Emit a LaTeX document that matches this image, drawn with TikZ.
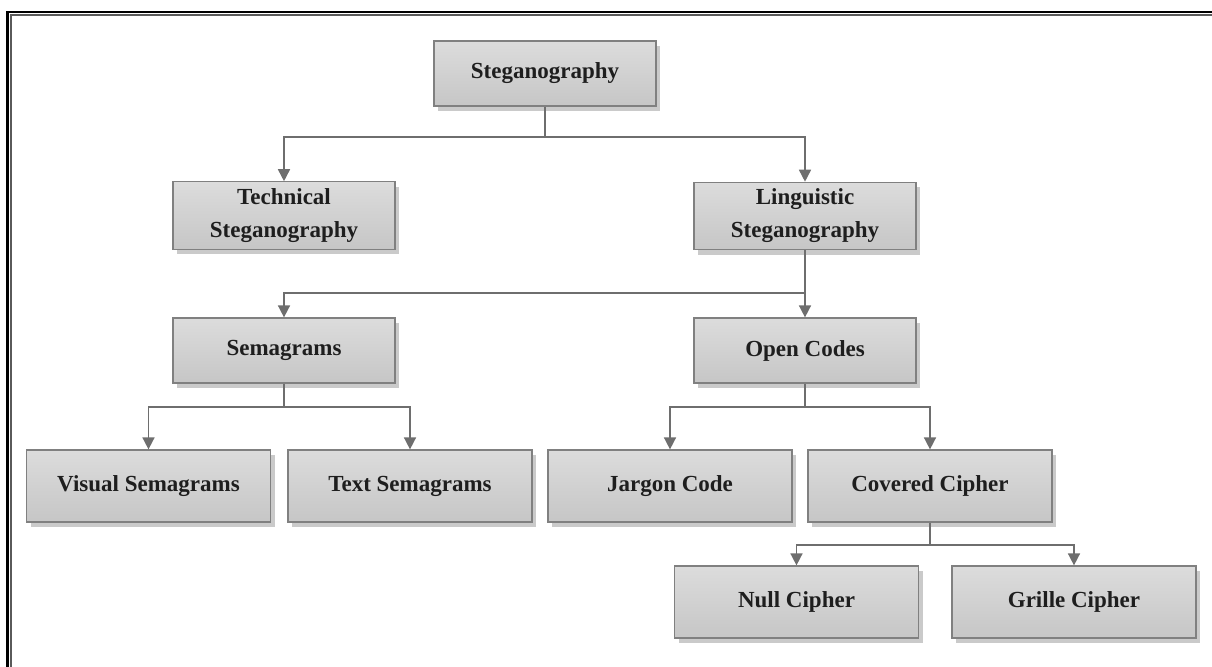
\documentclass[tikz,border=0pt]{standalone}
\usepackage{fontspec}
\setmainfont{Liberation Serif}
\usetikzlibrary{
  arrows.meta,
  shadows,
  calc
}
\definecolor{boxtop}{RGB}{220, 220, 220}
\definecolor{boxbottom}{RGB}{198, 198, 198}
\definecolor{boxline}{RGB}{128, 128, 128}
\definecolor{arrowcolor}{RGB}{110, 110, 110}
\definecolor{labelcolor}{RGB}{30, 30, 30}
\definecolor{framecolor}{RGB}{90, 90, 90}
\tikzset{
blocktext/.style={
  align=center,
  font=\fontsize{11.5}{16.5}\selectfont\bfseries,
  text=labelcolor
},
block/.style={
  draw=boxline,
  line width=0.6pt,
  top color=boxtop,
  bottom color=boxbottom,
  drop shadow={shadow xshift=2pt, shadow yshift=-2.5pt, opacity=0.35, fill=black!60},
  minimum width=111pt,
  minimum height=32.5pt,
  blocktext
},
wideblock/.style={
  block,
  minimum width=122pt,
  minimum height=36pt
},
line/.style={
  line width=0.8pt,
  draw=arrowcolor
},
arrow/.style={
  line,
  -{Triangle[length=6pt,width=6pt]}
}
}
\begin{document}
\begin{tikzpicture}[x=0.5pt, y=-0.5pt]
  \useasboundingbox (0,0) rectangle (1212,667);

  % frame
  \draw[black, line width=1.1pt] (7.5,667) -- (7.5,12) -- (1212,12);
  \draw[framecolor, line width=1pt] (11,667) -- (11,15.5) -- (1212,15.5);

  % top levels
  \node[block] (steg) at (545,73.5) {Steganography};
  \node[block] (tech) at (284,215.5) {Technical\\Steganography};
  \node[block] (ling) at (805,216) {Linguistic\\Steganography};
  \node[block] (sema) at (284,350.5) {Semagrams};
  \node[block] (open) at (805,350.5) {Open Codes};

  % leaves
  \node[wideblock] (visual) at (148.5,486) {Visual Semagrams};
  \node[wideblock] (text) at (410,486) {Text Semagrams};
  \node[wideblock] (jargon) at (670,486) {Jargon Code};
  \node[wideblock] (covered) at (930,486) {Covered Cipher};
  \node[wideblock] (null) at (796.5,602) {Null Cipher};
  \node[wideblock] (grille) at (1074,602) {Grille Cipher};

  % connectors
  \coordinate (b1) at (545,137);
  \draw[line] (steg.south) -- (b1);
  \draw[arrow] (b1) -| (tech.north);
  \draw[arrow] (b1) -| (ling.north);

  \coordinate (b2) at (805,293);
  \draw[line] (ling.south) -- (b2);
  \draw[arrow] (b2) -| (sema.north);
  \draw[arrow] (b2) -- (open.north);

  \coordinate (b3) at (284,407);
  \draw[line] (sema.south) -- (b3);
  \draw[arrow] (b3) -| (visual.north);
  \draw[arrow] (b3) -| (text.north);

  \coordinate (b4) at (805,407);
  \draw[line] (open.south) -- (b4);
  \draw[arrow] (b4) -| (jargon.north);
  \draw[arrow] (b4) -| (covered.north);

  \coordinate (b5) at (930,545);
  \draw[line] (covered.south) -- (b5);
  \draw[arrow] (b5) -| (null.north);
  \draw[arrow] (b5) -| (grille.north);
\end{tikzpicture}
\end{document}
